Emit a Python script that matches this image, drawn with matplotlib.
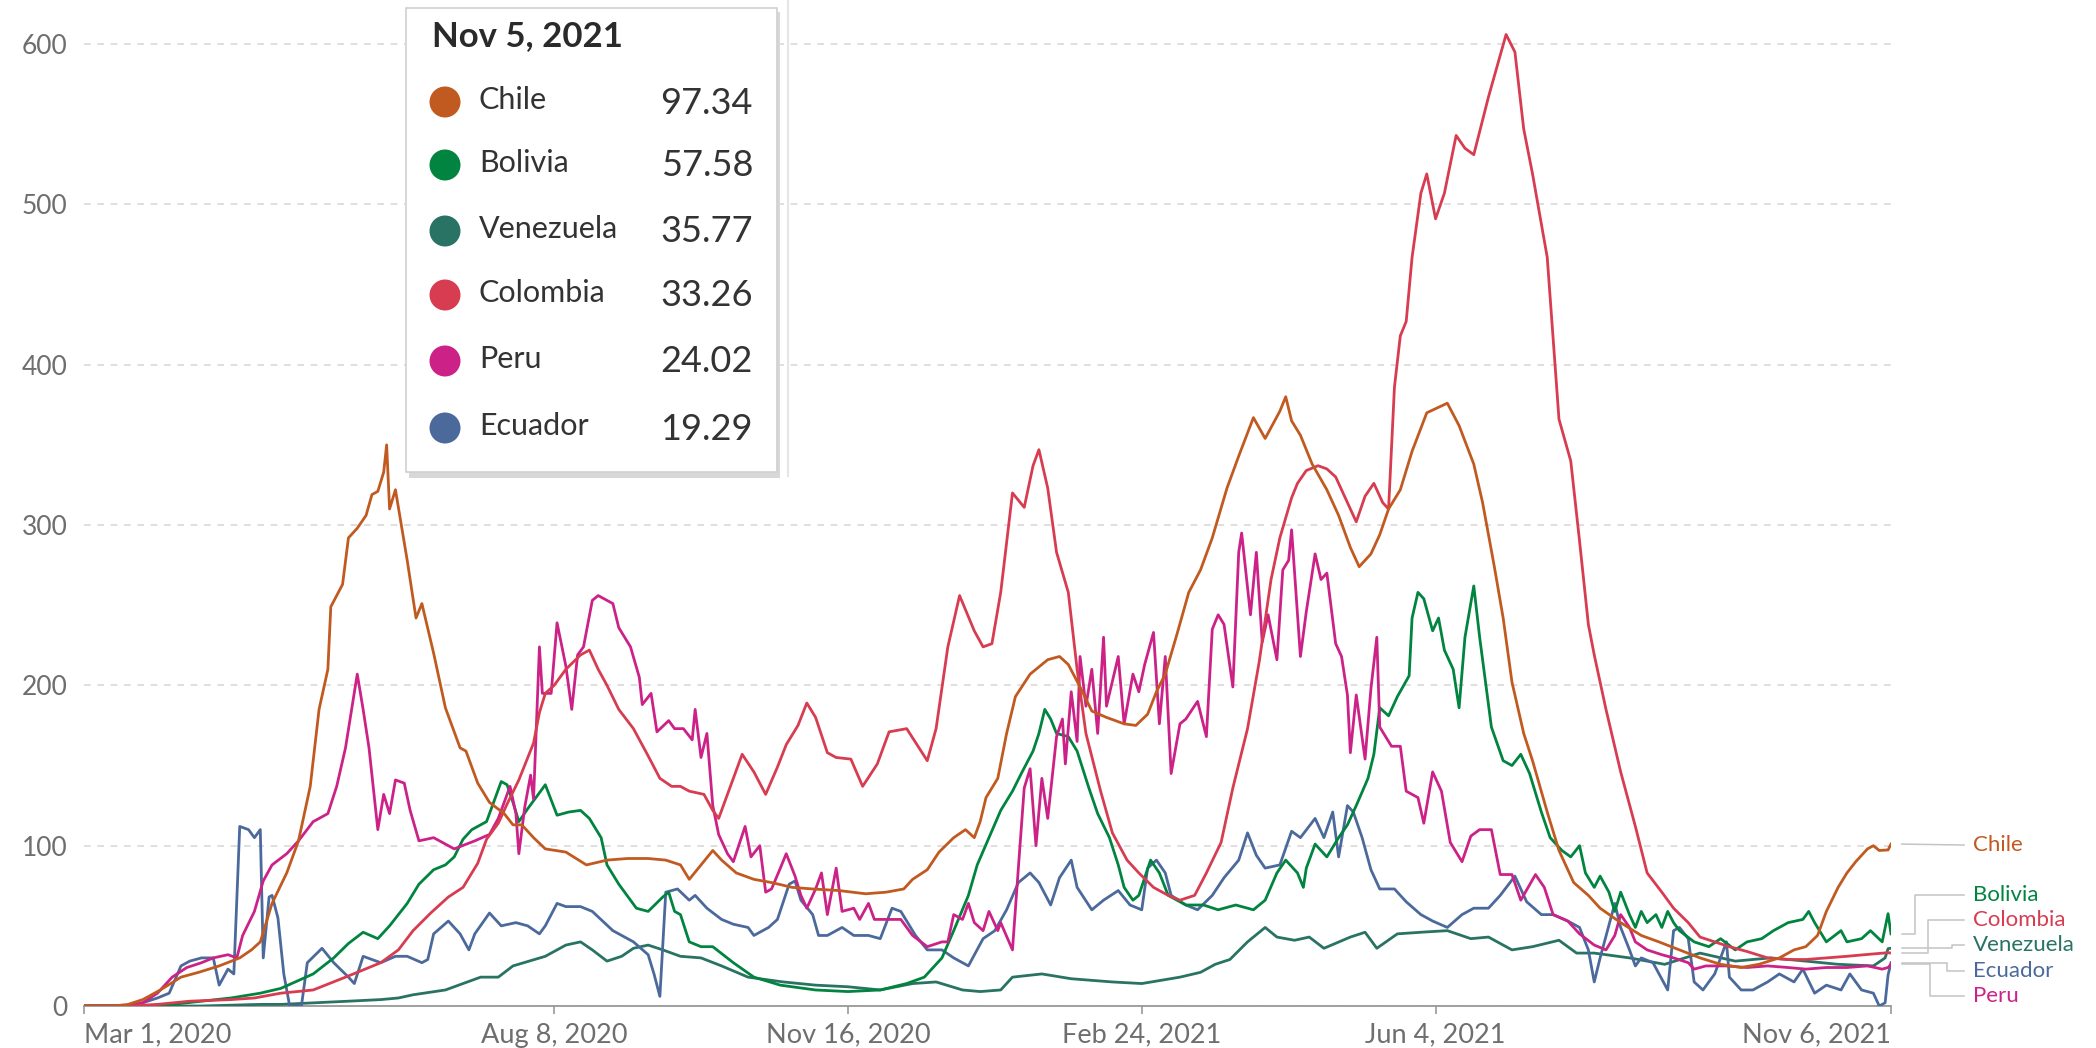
import numpy as np
import matplotlib.pyplot as plt
from matplotlib.patches import Rectangle, Circle

plt.rcParams['font.family'] = ['Lato', 'DejaVu Sans']

START = np.datetime64('2020-03-01')

# days since Mar 1, 2020 and new cases per million (7-day avg)
chile_d = [0, 10, 15, 20, 26, 33, 39, 46, 53, 57, 60, 64, 69, 73, 77, 80, 83, 84, 86, 88, 90, 93, 96, 98, 100,
           102, 103, 104, 106, 110, 113, 115, 119, 123, 128, 130, 134, 138, 143, 146, 149, 153, 157, 164, 171,
           178, 185, 192, 198, 203, 206, 210, 214, 217, 222, 228, 234, 241, 248, 257, 266, 273, 279, 282, 287,
           291, 296, 300, 303, 305, 307, 311, 314, 317, 322, 328, 332, 335, 339, 343, 348, 354, 358, 362, 365,
           368, 372, 376, 380, 384, 389, 393, 398, 402, 407, 409, 411, 414, 418, 423, 427, 431, 434, 438, 441,
           444, 448, 452, 457, 464, 468, 473, 476, 480, 483, 486, 490, 493, 498, 502, 507, 512, 516, 523, 530,
           536, 543, 550, 557, 564, 570, 577, 582, 586, 590, 593, 597, 600, 603, 607, 609, 611, 614, 615]
chile_v = [0, 0, 1, 4, 10, 18, 21, 25, 30, 35, 40, 64, 83, 103, 137, 185, 210, 249, 256, 263, 292, 298, 306, 319, 321,
           333, 350, 310, 322, 278, 242, 251, 220, 186, 161, 159, 139, 127, 120, 113, 113, 105, 98, 96, 88,
           91, 92, 92, 91, 88, 79, 88, 97, 91, 83, 79, 77, 74, 73, 72, 70, 71, 73, 79, 85,
           96, 105, 110, 105, 115, 130, 142, 170, 193, 207, 216, 218, 213, 199, 184, 180, 176, 175, 182, 196,
           207, 232, 258, 272, 292, 323, 343, 367, 354, 371, 380, 365, 356, 338, 322, 306, 286, 274, 282, 294,
           310, 322, 346, 370, 376, 362, 338, 314, 274, 242, 202, 170, 153, 121, 97, 77, 69, 61, 52, 44,
           40, 35, 30, 26, 24, 26, 30, 35, 37, 44, 59, 74, 83, 90, 98, 100, 97, 97.34, 101]

colombia_d = [0, 15, 25, 36, 50, 58, 67, 78, 89, 101, 107, 112, 118, 124, 129, 134, 137, 141, 144, 148, 153, 155,
              157, 160, 164, 169, 172, 175, 178, 182, 187, 192, 196, 200, 203, 206, 211, 214, 216, 220, 224, 228,
              232, 236, 239, 243, 246, 249, 253, 256, 261, 265, 270, 274, 280, 287, 290, 294, 298, 303, 306, 309,
              312, 316, 320, 323, 325, 328, 331, 335, 338, 341, 346, 350, 355, 359, 364, 369, 373, 378, 382, 387,
              391, 396, 400, 404, 407, 411, 413, 416, 420, 423, 426, 430, 433, 436, 439, 442, 444, 446, 448, 450,
              452, 455, 457, 460, 463, 467, 470, 473, 478, 484, 487, 490, 493, 498, 502, 506, 509, 512, 514, 518,
              523, 528, 532, 537, 541, 546, 550, 555, 560, 566, 573, 580, 586, 593, 600, 606, 614, 615]
colombia_v = [0, 0, 1, 3, 4, 5, 8, 10, 18, 27, 35, 47, 58, 68, 74, 89, 104, 114, 126, 141, 164, 183,
              195, 200, 210, 219, 222, 210, 200, 185, 173, 156, 142, 137, 137, 134, 132, 122, 117, 137, 157, 146,
              132, 149, 163, 175, 189, 180, 158, 155, 154, 137, 151, 171, 173, 153, 173, 224, 256, 234, 224, 226,
              258, 320, 311, 337, 347, 323, 283, 258, 210, 170, 134, 108, 91, 83, 74, 69, 66, 69, 83, 102,
              136, 173, 215, 266, 292, 317, 326, 334, 337, 335, 330, 314, 302, 318, 326, 314, 310, 386, 418, 427,
              467, 507, 519, 491, 507, 543, 535, 531, 567, 606, 595, 547, 519, 467, 366, 340, 290, 238, 219, 185,
              146, 112, 83, 71, 61, 52, 43, 40, 37, 34, 30, 29, 29, 30, 31, 32, 33.26, 33]

peru_d = [0, 15, 20, 25, 30, 35, 40, 44, 49, 52, 54, 58, 61, 64, 69, 73, 78, 83, 86, 89, 93, 95, 97, 100, 102,
          104, 106, 109, 111, 114, 119, 126, 133, 138, 141, 145, 147, 148, 150, 152, 153, 155, 156, 159, 161,
          164, 166, 168, 170, 173, 175, 178, 180, 182, 186, 189, 190, 193, 195, 199, 201, 204, 207, 208, 210,
          212, 214, 216, 219, 221, 225, 227, 230, 232, 234, 237, 239, 242, 244, 246, 249, 251, 253, 256, 258,
          262, 264, 267, 269, 273, 278, 282, 287, 292, 294, 296, 299, 301, 303, 306, 308, 311, 312, 316, 318,
          320, 322, 324, 326, 328, 331, 333, 334, 336, 338, 339, 341, 343, 345, 347, 348, 352, 354, 357, 359,
          361, 364, 366, 368, 370, 373, 375, 379, 382, 384, 386, 388, 391, 393, 394, 397, 399, 401, 403, 406,
          408, 410, 411, 414, 416, 419, 421, 423, 426, 428, 430, 431, 433, 436, 438, 440, 441, 445, 448, 450,
          454, 456, 459, 462, 465, 469, 472, 475, 479, 482, 486, 489, 494, 497, 500, 505, 509, 514, 518, 521,
          523, 526, 528, 532, 537, 541, 546, 548, 552, 559, 566, 573, 580, 586, 593, 600, 607, 612, 614, 615]
peru_v = [0, 0, 2, 8, 18, 24, 27, 30, 32, 30, 44, 59, 78, 88, 95, 103, 115, 120, 137, 161, 207, 185, 161, 110, 132,
          120, 141, 139, 122, 103, 105, 98, 103, 107, 117, 137, 120, 95, 124, 144, 129, 224, 195, 195, 239,
          212, 185, 219, 224, 253, 256, 253, 251, 236, 224, 205, 188, 195, 171, 178, 173, 173, 166, 185, 155,
          170, 125, 107, 95, 90, 112, 93, 100, 71, 73, 86, 95, 81, 69, 61, 73, 83, 57, 86, 59,
          61, 54, 64, 54, 54, 54, 44, 37, 40, 40, 57, 54, 64, 52, 47, 59, 47, 52, 35, 86,
          136, 148, 100, 142, 117, 168, 179, 151, 196, 165, 218, 187, 210, 170, 230, 187, 218, 176, 207, 196,
          213, 233, 176, 218, 145, 176, 179, 190, 168, 235, 244, 238, 199, 283, 295, 244, 283, 227, 244, 216,
          272, 278, 297, 218, 246, 282, 266, 270, 226, 218, 194, 158, 194, 154, 198, 230, 174, 162, 162, 134,
          130, 114, 146, 134, 102, 90, 106, 110, 110, 82, 82, 66, 82, 74, 57, 53, 45, 38, 35, 44,
          57, 49, 40, 35, 32, 30, 27, 23, 25, 25, 24, 25, 24, 23, 24, 24, 25, 23, 24.02, 26]

bolivia_d = [0, 20, 30, 40, 50, 60, 67, 78, 85, 90, 95, 100, 104, 110, 114, 119, 123, 126, 129, 132, 137, 139,
             142, 144, 146, 148, 151, 155, 157, 161, 165, 169, 172, 176, 178, 182, 188, 192, 197, 199, 201, 203,
             206, 210, 214, 221, 228, 237, 249, 260, 271, 280, 286, 292, 296, 301, 304, 308, 312, 316, 319, 323,
             325, 327, 329, 331, 335, 338, 342, 345, 349, 352, 354, 357, 359, 361, 363, 366, 369, 375, 381, 386,
             392, 398, 402, 406, 409, 413, 415, 416, 419, 423, 427, 430, 433, 437, 439, 441, 444, 447, 451, 452,
             454, 456, 459, 461, 463, 466, 468, 470, 473, 475, 477, 479, 483, 486, 489, 492, 496, 499, 503, 506,
             509, 511, 514, 516, 519, 521, 523, 526, 528, 530, 532, 535, 537, 539, 541, 543, 548, 553, 557, 562,
             566, 571, 575, 580, 585, 587, 589, 593, 598, 600, 605, 608, 612, 614, 615]
bolivia_v = [0, 0, 1, 3, 5, 8, 11, 20, 30, 39, 46, 42, 50, 64, 76, 85, 88, 93, 104, 110, 115, 125,
             140, 138, 127, 115, 123, 133, 138, 119, 121, 122, 117, 105, 88, 76, 61, 59, 68, 71, 59, 57,
             40, 37, 37, 27, 18, 13, 10, 9, 10, 14, 18, 30, 47, 69, 88, 105, 122, 134, 145, 159,
             170, 185, 179, 170, 168, 159, 136, 120, 105, 88, 74, 66, 69, 80, 91, 83, 69, 63, 63, 60,
             63, 60, 66, 83, 91, 83, 74, 86, 101, 93, 105, 113, 125, 142, 157, 186, 181, 193, 206, 242,
             258, 254, 234, 242, 222, 210, 186, 230, 262, 230, 202, 174, 153, 150, 157, 145, 121, 105, 97, 93,
             100, 83, 74, 81, 71, 59, 71, 57, 49, 59, 52, 57, 49, 59, 52, 47, 40, 37, 42, 35,
             40, 42, 47, 52, 54, 59, 52, 40, 47, 40, 42, 47, 40, 57.58, 45]

venezuela_d = [0, 40, 60, 67, 90, 101, 107, 112, 123, 135, 141, 146, 157, 164, 169, 173, 178, 183, 187, 192, 197,
               203, 210, 217, 226, 238, 249, 260, 271, 282, 290, 299, 305, 312, 316, 326, 336, 350, 360, 373, 380,
               385, 390, 396, 402, 406, 412, 417, 422, 431, 436, 440, 447, 455, 464, 472, 478, 486, 493, 502, 508,
               514, 526, 538, 550, 562, 574, 586, 597, 609, 613, 614, 615]
venezuela_v = [0, 0, 1, 1, 3, 4, 5, 7, 10, 18, 18, 25, 31, 38, 40, 35, 28, 31, 36, 38, 35,
               31, 30, 25, 18, 15, 13, 12, 10, 14, 15, 10, 9, 10, 18, 20, 17, 15, 14, 18, 21,
               26, 29, 40, 49, 43, 41, 43, 36, 43, 46, 36, 45, 46, 47, 42, 43, 35, 37, 41, 33,
               33, 30, 26, 33, 28, 30, 28, 26, 25, 30, 35.77, 36]

ecuador_d = [0, 15, 20, 25, 29, 33, 36, 40, 44, 46, 49, 51, 53, 56, 58, 60, 61, 63, 64, 66, 68, 70, 74, 76, 81,
             85, 90, 92, 95, 101, 106, 110, 115, 117, 119, 124, 128, 131, 133, 138, 142, 147, 151, 155, 157,
             161, 164, 169, 173, 180, 187, 192, 194, 196, 198, 202, 206, 208, 212, 217, 221, 226, 228, 233, 236,
             240, 242, 244, 248, 250, 253, 258, 262, 267, 271, 275, 278, 283, 287, 292, 296, 301, 306, 310, 314,
             318, 322, 325, 329, 332, 336, 338, 343, 347, 352, 356, 360, 362, 365, 368, 370, 375, 379, 384, 388,
             393, 396, 399, 402, 407, 411, 414, 419, 422, 425, 427, 430, 432, 435, 438, 441, 446, 450, 455, 459,
             464, 469, 473, 478, 482, 487, 491, 496, 500, 505, 509, 512, 514, 516, 521, 523, 526, 528, 530, 534,
             539, 541, 543, 546, 548, 551, 555, 559, 560, 564, 568, 573, 577, 582, 585, 589, 593, 598, 601, 605,
             609, 611, 613, 614, 615]
ecuador_v = [0, 0, 2, 5, 8, 25, 28, 30, 30, 13, 23, 20, 112, 110, 105, 110, 30, 68, 69, 55, 20, 0, 0, 27, 36,
             27, 18, 14, 31, 27, 31, 31, 27, 29, 45, 53, 45, 35, 45, 58, 50, 52, 50, 45, 50,
             64, 62, 62, 59, 47, 40, 32, 20, 6, 71, 73, 66, 69, 61, 54, 51, 49, 44, 49, 54,
             76, 78, 66, 57, 44, 44, 49, 44, 44, 42, 61, 59, 44, 35, 35, 30, 25, 42, 47, 60,
             77, 83, 77, 63, 80, 91, 74, 60, 66, 72, 63, 60, 86, 91, 83, 69, 63, 60, 69, 80,
             91, 108, 94, 86, 88, 109, 105, 117, 105, 121, 93, 125, 121, 105, 85, 73, 73, 65, 57, 53,
             49, 57, 61, 61, 69, 81, 65, 57, 57, 53, 49, 35, 15, 30, 64, 49, 35, 25, 30, 27,
             10, 47, 49, 42, 15, 10, 20, 40, 18, 10, 10, 15, 20, 15, 23, 8, 13, 10, 20, 10,
             8, 0, 2, 19.29, 27]

countries = ['Chile', 'Bolivia', 'Venezuela', 'Colombia', 'Peru', 'Ecuador']
series = {
    'Chile': (chile_d, chile_v),
    'Bolivia': (bolivia_d, bolivia_v),
    'Venezuela': (venezuela_d, venezuela_v),
    'Colombia': (colombia_d, colombia_v),
    'Peru': (peru_d, peru_v),
    'Ecuador': (ecuador_d, ecuador_v),
}
colors = {'Chile': '#c15a20', 'Bolivia': '#00843f', 'Venezuela': '#287363',
          'Colombia': '#d73c50', 'Peru': '#cc2288', 'Ecuador': '#4b699b'}
tip_date = 'Nov 5, 2021'
tip_values = ['97.34', '57.58', '35.77', '33.26', '24.02', '19.29']

tick_dates = ['2020-03-01', '2020-08-08', '2020-11-16', '2021-02-24', '2021-06-04', '2021-11-06']
tick_labels = ['Mar 1, 2020', 'Aug 8, 2020', 'Nov 16, 2020', 'Feb 24, 2021', 'Jun 4, 2021', 'Nov 6, 2021']
yticks = [0, 100, 200, 300, 400, 500, 600]

# right-hand labels: order top to bottom, label height (in y units), elbow position
end_labels = ['Chile', 'Bolivia', 'Colombia', 'Venezuela', 'Ecuador', 'Peru']
label_y = [100.4, 69, 53.6, 38, 22, 6]
elbow_x = [1.0133, 1.0133, 1.0205, 1.0338, 1.031, 1.0216]

fig = plt.figure(figsize=(20.96, 10.48), dpi=100)
ax = fig.add_axes([84/2096, 42/1048, 1807/2096, 994/1048])

draw_order = ['Venezuela', 'Ecuador', 'Bolivia', 'Peru', 'Colombia', 'Chile']
for c in draw_order:
    d, v = series[c]
    x = START + np.array(d).astype('timedelta64[D]')
    ax.plot(x, v, color=colors[c], lw=2.0, solid_joinstyle='round', zorder=3)

ax.set_xlim(START, START + np.timedelta64(615, 'D'))
ax.set_ylim(0, 620)
ax.set_yticks(yticks)
ax.set_yticklabels([str(t) for t in yticks])
ax.yaxis.grid(True, linestyle=(0, (4, 4)), color='#d9d9d9', lw=1.2)
ax.set_axisbelow(True)

ax.set_xticks([np.datetime64(t) for t in tick_dates])
ax.set_xticklabels(tick_labels)
for sp in ['top', 'right', 'left']:
    ax.spines[sp].set_visible(False)
ax.spines['bottom'].set_color('#999999')
ax.spines['bottom'].set_linewidth(1.3)
ax.tick_params(axis='y', length=0, pad=12, labelsize=19, labelcolor='#6e6e6e')
ax.tick_params(axis='x', length=6, width=1.2, color='#999999', pad=6, labelsize=19.5, labelcolor='#6e6e6e')
xl = ax.get_xticklabels()
xl[0].set_ha('left')
xl[-1].set_ha('right')

# end labels with connector lines
trans = ax.get_yaxis_transform()
for name, ly, ex in zip(end_labels, label_y, elbow_x):
    yend = series[name][1][-1]
    if abs(yend - ly) < 2:
        ax.plot([1.006, 1.0404], [yend, ly], color='#c4c4c4', lw=1.1, transform=trans, clip_on=False)
    else:
        ax.plot([1.006, ex, ex, 1.0404], [yend, yend, ly, ly], color='#c4c4c4', lw=1.1,
                transform=trans, clip_on=False)
    ax.text(1.0454, ly, name, transform=trans, color=colors[name], fontsize=16,
            va='center', ha='left', clip_on=False)

# tooltip overlay, in pixel units
ov = fig.add_axes([0, 0, 1, 1], zorder=10)
ov.set_xlim(0, 2096)
ov.set_ylim(1048, 0)
ov.axis('off')
ov.patch.set_visible(False)

ov.plot([788, 788], [0, 476], color='#e6e6e6', lw=1.5)
ov.add_patch(Rectangle((409, 12), 371, 466, fc='#d8d8d8', ec='none'))
ov.add_patch(Rectangle((406, 8), 371, 464, fc='white', ec='#d0d0d0', lw=1.2))
ov.text(432, 36, tip_date, fontsize=25, fontweight='bold', color='#2a2a2a', va='center', ha='left')
row_y = [102, 165, 231, 295, 361, 428]
for name, val, ry in zip(countries, tip_values, row_y):
    ov.add_patch(Circle((445, ry), 15.5, fc=colors[name], ec='none'))
    ov.text(479, ry - 2, name, fontsize=22, color='#333333', va='center', ha='left')
    ov.text(753, ry + 1, val, fontsize=26, color='#333333', va='center', ha='right')

fig.savefig('out.png', dpi=100)
